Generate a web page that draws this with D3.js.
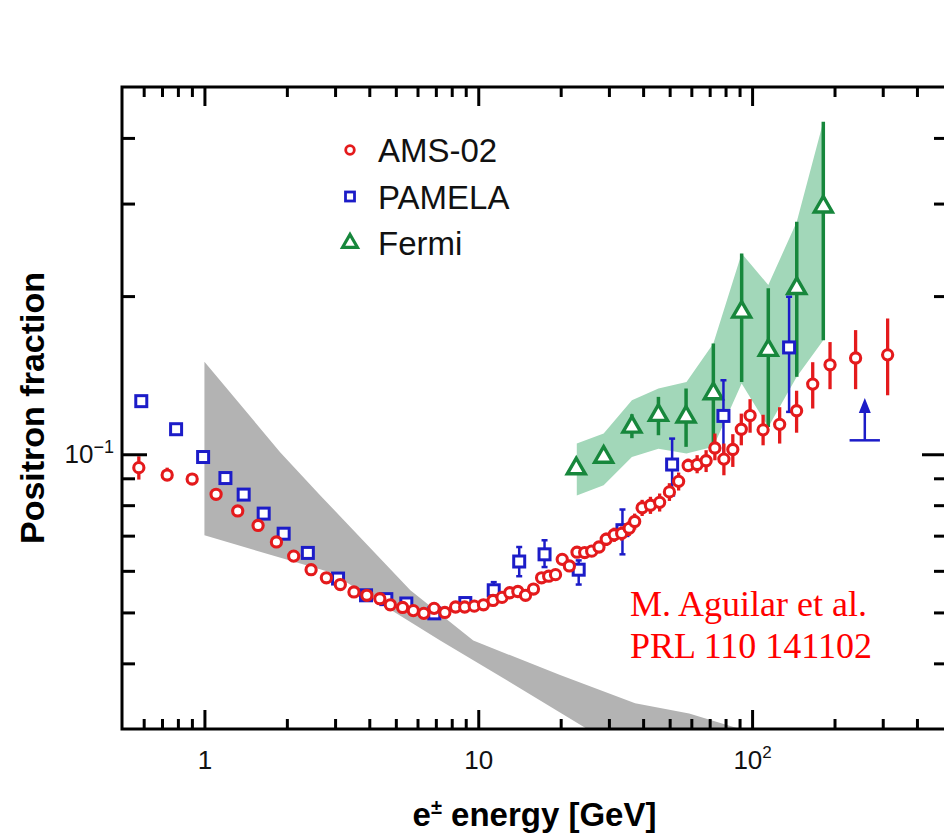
<!DOCTYPE html>
<html>
<head>
<meta charset="utf-8">
<script src="https://cdn.jsdelivr.net/npm/d3@7"></script>
<style>
  body { margin: 0; background: #fff; }
  svg { display: block; }
  .tick line { stroke: #000; stroke-width: 3; }
  .tick text { font-family: "Liberation Sans", Arial, sans-serif; font-size: 26px; fill: #111; }
</style>
</head>
<body>
<div id="viz"></div>
<script>

// AMS-02 positron fraction
var amsE = [0.576, 0.731, 0.902, 1.103, 1.323, 1.570, 1.832, 2.118, 2.452, 2.788,
  3.135, 3.516, 3.918, 4.370, 4.773, 5.293, 5.792, 6.326, 6.898, 7.552,
  8.264, 8.922, 9.670, 10.45, 11.32, 12.21, 13.03, 13.95, 14.88, 15.91,
  17.03, 18.08, 19.15, 20.26, 21.52, 22.94, 24.47, 25.96, 27.60, 29.33,
  31.36, 33.40, 35.57, 37.26, 39.67, 42.54, 45.96, 49.90, 53.92, 58.41,
  63.0, 67.94, 73.13, 78.89, 85.04, 91.33, 98.33, 109.7, 126.1, 145.4,
  166.5, 192.6, 238.8, 312.6];
var amsF = [0.0943, 0.0913, 0.0897, 0.0839, 0.0780, 0.0732, 0.0681, 0.0640, 0.0603, 0.0582,
  0.0565, 0.0547, 0.0539, 0.0531, 0.0517, 0.0511, 0.0504, 0.0498, 0.0509, 0.0500,
  0.0512, 0.0512, 0.0514, 0.0517, 0.0527, 0.0534, 0.0545, 0.0548, 0.0539, 0.0554,
  0.0582, 0.0586, 0.0590, 0.0631, 0.0613, 0.0651, 0.0650, 0.0654, 0.0666, 0.0689,
  0.0703, 0.0707, 0.0723, 0.0745, 0.0791, 0.0800, 0.0810, 0.0848, 0.0888, 0.0952,
  0.0956, 0.0972, 0.1028, 0.0979, 0.1021, 0.1116, 0.1185, 0.1113, 0.1140, 0.1210,
  0.1360, 0.1480, 0.1525, 0.1546];
var amsErrUp = [0.0048, 0.0030, 0.0008, 0.0008, 0.0008, 0.0008, 0.0008, 0.0008, 0.0008, 0.0008,
  0.0008, 0.0008, 0.0008, 0.0008, 0.0008, 0.0008, 0.0008, 0.0008, 0.0008, 0.0008,
  0.0008, 0.0008, 0.0008, 0.0008, 0.0008, 0.0008, 0.0008, 0.0008, 0.0008, 0.0008,
  0.0012, 0.0012, 0.0012, 0.0012, 0.0012, 0.0012, 0.0012, 0.0012, 0.0012, 0.0020,
  0.0022, 0.0022, 0.0024, 0.0026, 0.0028, 0.0030, 0.0032, 0.0033, 0.0035, 0.0029,
  0.0040, 0.0046, 0.0067, 0.0069, 0.0071, 0.0079, 0.0088, 0.0076, 0.0089, 0.0111,
  0.0137, 0.0155, 0.0198, 0.0267];
var amsErrDn = [0.0048, 0.0023, 0.0008, 0.0008, 0.0008, 0.0008, 0.0008, 0.0008, 0.0008, 0.0008,
  0.0008, 0.0008, 0.0008, 0.0008, 0.0008, 0.0008, 0.0008, 0.0008, 0.0008, 0.0008,
  0.0008, 0.0008, 0.0008, 0.0008, 0.0008, 0.0008, 0.0008, 0.0008, 0.0008, 0.0008,
  0.0012, 0.0012, 0.0012, 0.0012, 0.0012, 0.0012, 0.0012, 0.0012, 0.0012, 0.0020,
  0.0022, 0.0022, 0.0024, 0.0026, 0.0028, 0.0030, 0.0032, 0.0033, 0.0035, 0.0027,
  0.0036, 0.0047, 0.0054, 0.0067, 0.0075, 0.0076, 0.0086, 0.0073, 0.0092, 0.0111,
  0.0138, 0.0150, 0.0195, 0.0251];

// PAMELA
var pamE = [0.588, 0.788, 0.989, 1.193, 1.391, 1.646, 1.947, 2.386, 3.076, 3.892, 4.616,
  5.461, 6.909, 8.968, 11.39, 14.11, 17.46, 23.27, 33.62, 51.05, 78.6, 136.5];
var pamF = [0.1262, 0.1116, 0.0988, 0.0901, 0.0838, 0.0771, 0.0706, 0.0649, 0.0580, 0.0539, 0.0530,
  0.0520, 0.0498, 0.0521, 0.0551, 0.0625, 0.0645, 0.0603, 0.0717, 0.0956, 0.1183, 0.1597];
var pamErrUp = [0, 0, 0, 0, 0, 0, 0, 0, 0, 0, 0,
  0, 0, 0.0010, 0.0020, 0.0041, 0.0041, 0.0025, 0.0068, 0.0115, 0.0200, 0.0397];
var pamErrDn = [0, 0, 0, 0, 0, 0, 0, 0, 0, 0, 0,
  0, 0, 0.0010, 0.0024, 0.0039, 0.0035, 0.0038, 0.0072, 0.0121, 0.0202, 0.0393];

// PAMELA lower limit (arrow)
var limE = [258], limELo = [227], limEHi = [293], limF = [0.1063], limTip = [0.128];

// Fermi
var fermiE = [22.8, 28.7, 36.4, 45.5, 57.4, 72.2, 91.6, 114.6, 145.6, 182.0];
var fermiF = [0.0939, 0.0988, 0.1127, 0.1187, 0.1178, 0.1305, 0.1866, 0.1578, 0.2069, 0.2958];
var fermiHi = [0.0955, 0.1005, 0.1192, 0.1286, 0.1334, 0.1625, 0.2411, 0.2069, 0.2770, 0.4295];
var fermiLo = [0.0922, 0.0972, 0.1073, 0.1087, 0.1033, 0.1003, 0.1373, 0.1127, 0.1404, 0.1649];

// Fermi systematic band
var fermiBandE = [22.9, 28.7, 36.4, 45.5, 57.6, 72.2, 91.6, 114.6, 145.6, 182.0];
var fermiBandHi = [0.1048, 0.1095, 0.1267, 0.1334, 0.1373, 0.1625, 0.2411, 0.2099, 0.2770, 0.4295];
var fermiBandLo = [0.0835, 0.0873, 0.0988, 0.1025, 0.1003, 0.1033, 0.1364, 0.1127, 0.1404, 0.1649];

// secondary production band (grey)
var secUpE = [1.0, 1.89, 2.65, 5.65, 9.59, 19.9, 37.4, 58.9, 90.4];
var secUpF = [0.150, 0.1009, 0.0835, 0.0551, 0.0442, 0.0380, 0.0336, 0.0321, 0.0300];
var secLoE = [1.0, 2.88, 7.26, 12.76, 25.0];
var secLoF = [0.0701, 0.0596, 0.0442, 0.0371, 0.0300];

// ticks
var xMajor = [1, 10, 100];
var xMinor = [0.6, 0.7, 0.8, 0.9, 2, 3, 4, 5, 6, 7, 8, 9, 20, 30, 40, 50, 60, 70, 80, 90, 200, 300, 400];
var yMajor = [0.1];
var yMinor = [0.04, 0.05, 0.06, 0.07, 0.08, 0.09, 0.2, 0.3, 0.4];

var red = "#e41a1c", blue = "#1c1cc8", green = "#17873c";

var W = 944, H = 834;
var pl = 122, pr = 947, pt = 87, pb = 729;

var svg = d3.select("#viz").append("svg")
  .attr("width", W)
  .attr("height", H);

svg.append("rect").attr("width", W).attr("height", H).attr("fill", "#fff");

var x = d3.scaleLog().domain([0.5, 515]).range([pl, pr]);
var y = d3.scaleLog().domain([0.03, 0.5]).range([pb, pt]);

svg.append("clipPath").attr("id", "plot")
  .append("rect")
  .attr("x", pl).attr("y", pt)
  .attr("width", pr - pl).attr("height", pb - pt);

var plot = svg.append("g").attr("clip-path", "url(#plot)");

var line = d3.line()
  .x(function(d){return x(d[0])})
  .y(function(d){return y(d[1])});

// grey band
var secPoly = secUpE.map(function(e, i){return [e, secUpF[i]]})
  .concat(secLoE.map(function(e, i){return [e, secLoF[i]]}).reverse());
plot.append("path")
  .attr("d", line(secPoly) + "Z")
  .attr("fill", "#b3b3b3");

// fermi band
var area = d3.area()
  .x(function(d, i){return x(fermiBandE[i])})
  .y0(function(d, i){return y(fermiBandLo[i])})
  .y1(function(d, i){return y(fermiBandHi[i])});
plot.append("path")
  .attr("d", area(fermiBandE))
  .attr("fill", "#a2d7b9");

// fermi points
var fi = d3.range(fermiE.length);
plot.selectAll(".fbar").data(fi).enter().append("line")
  .attr("x1", function(i){return x(fermiE[i])})
  .attr("x2", function(i){return x(fermiE[i])})
  .attr("y1", function(i){return y(fermiLo[i])})
  .attr("y2", function(i){return y(fermiHi[i])})
  .attr("stroke", green).attr("stroke-width", 3.5);

var tri = d3.symbol().type(d3.symbolTriangle).size(140);
plot.selectAll(".ftri").data(fi).enter().append("path")
  .attr("d", tri)
  .attr("transform", function(i){return "translate(" + x(fermiE[i]) + "," + y(fermiF[i]) + ")"})
  .attr("fill", "#fff").attr("stroke", green).attr("stroke-width", 3.4)
  .attr("stroke-linejoin", "miter");

// pamela points
var pi = d3.range(pamE.length).filter(function(i){return pamErrUp[i] > 0});
var pbar = plot.selectAll(".pbar").data(pi).enter().append("g")
  .attr("stroke", blue).attr("stroke-width", 2.5);
pbar.append("line")
  .attr("x1", function(i){return x(pamE[i])})
  .attr("x2", function(i){return x(pamE[i])})
  .attr("y1", function(i){return y(pamF[i] - pamErrDn[i])})
  .attr("y2", function(i){return y(pamF[i] + pamErrUp[i])});
pbar.append("line")
  .attr("x1", function(i){return x(pamE[i]) - 3})
  .attr("x2", function(i){return x(pamE[i]) + 3})
  .attr("y1", function(i){return y(pamF[i] + pamErrUp[i])})
  .attr("y2", function(i){return y(pamF[i] + pamErrUp[i])});
pbar.append("line")
  .attr("x1", function(i){return x(pamE[i]) - 3})
  .attr("x2", function(i){return x(pamE[i]) + 3})
  .attr("y1", function(i){return y(pamF[i] - pamErrDn[i])})
  .attr("y2", function(i){return y(pamF[i] - pamErrDn[i])});

plot.selectAll(".psq").data(d3.range(pamE.length)).enter().append("rect")
  .attr("x", function(i){return x(pamE[i]) - 5.5})
  .attr("y", function(i){return y(pamF[i]) - 5.5})
  .attr("width", 11).attr("height", 11)
  .attr("fill", "#fff").attr("stroke", blue).attr("stroke-width", 3);

// ams points
var ai = d3.range(amsE.length);
plot.selectAll(".abar").data(ai).enter().append("line")
  .attr("x1", function(i){return x(amsE[i])})
  .attr("x2", function(i){return x(amsE[i])})
  .attr("y1", function(i){return y(amsF[i] - amsErrDn[i])})
  .attr("y2", function(i){return y(amsF[i] + amsErrUp[i])})
  .attr("stroke", red).attr("stroke-width", 3.3);

plot.selectAll(".acirc").data(ai).enter().append("circle")
  .attr("cx", function(i){return x(amsE[i])})
  .attr("cy", function(i){return y(amsF[i])})
  .attr("r", 5.1)
  .attr("fill", "#fff").attr("stroke", red).attr("stroke-width", 3.1);

// lower limit arrow
limE.forEach(function(e, i){
  var g = plot.append("g").attr("stroke", blue).attr("stroke-width", 2.5);
  g.append("line")
    .attr("x1", x(limELo[i])).attr("x2", x(limEHi[i]))
    .attr("y1", y(limF[i])).attr("y2", y(limF[i]));
  g.append("line")
    .attr("x1", x(e)).attr("x2", x(e))
    .attr("y1", y(limF[i])).attr("y2", y(limTip[i]) + 12);
  plot.append("path")
    .attr("d", "M" + x(e) + "," + y(limTip[i]) +
      "L" + (x(e) + 6) + "," + (y(limTip[i]) + 15) +
      "L" + (x(e) - 6) + "," + (y(limTip[i]) + 15) + "Z")
    .attr("fill", blue);
});

// axes (ticks point inward)
function noDomain(g){ g.select(".domain").remove(); }

svg.append("g").attr("transform", "translate(0," + pb + ")")
  .call(d3.axisBottom(x).tickValues(xMinor).tickSize(-10).tickFormat(""))
  .call(noDomain);
var xb = svg.append("g").attr("transform", "translate(0," + pb + ")")
  .call(d3.axisBottom(x).tickValues(xMajor).tickSize(-19).tickPadding(22)
    .tickFormat(function(d){return d >= 100 ? "10" : d3.format("d")(d)}))
  .call(noDomain);
xb.selectAll("text").filter(function(d){return d >= 100})
  .append("tspan").attr("dy", "-11").attr("font-size", "17px").text("2");

svg.append("g").attr("transform", "translate(0," + pt + ")")
  .call(d3.axisTop(x).tickValues(xMinor).tickSize(-10).tickFormat(""))
  .call(noDomain);
svg.append("g").attr("transform", "translate(0," + pt + ")")
  .call(d3.axisTop(x).tickValues(xMajor).tickSize(-19).tickFormat(""))
  .call(noDomain);

svg.append("g").attr("transform", "translate(" + pl + ",0)")
  .call(d3.axisLeft(y).tickValues(yMinor).tickSize(-13).tickFormat(""))
  .call(noDomain);
var yl = svg.append("g").attr("transform", "translate(" + pl + ",0)")
  .call(d3.axisLeft(y).tickValues(yMajor).tickSize(-25).tickPadding(8)
    .tickFormat(function(){return "10"}))
  .call(noDomain);
yl.selectAll("text").append("tspan")
  .attr("dy", "-10").attr("font-size", "18px").text("\u22121");

svg.append("g").attr("transform", "translate(" + pr + ",0)")
  .call(d3.axisRight(y).tickValues(yMinor).tickSize(-13).tickFormat(""))
  .call(noDomain);
svg.append("g").attr("transform", "translate(" + pr + ",0)")
  .call(d3.axisRight(y).tickValues(yMajor).tickSize(-25).tickFormat(""))
  .call(noDomain);

svg.append("rect")
  .attr("x", pl).attr("y", pt)
  .attr("width", pr - pl).attr("height", pb - pt)
  .attr("fill", "none").attr("stroke", "#000").attr("stroke-width", 3);

// axis titles
svg.append("text")
  .attr("transform", "translate(44," + ((pt + pb) / 2) + ") rotate(-90)")
  .attr("text-anchor", "middle")
  .style("font-family", "Liberation Sans, Arial, sans-serif")
  .style("font-weight", "bold").style("font-size", "34px")
  .text("Positron fraction");

var xt = svg.append("text")
  .attr("x", (pl + pr) / 2).attr("y", 826)
  .attr("text-anchor", "middle")
  .style("font-family", "Liberation Sans, Arial, sans-serif")
  .style("font-weight", "bold").style("font-size", "33px");
xt.append("tspan").text("e");
xt.append("tspan").attr("dy", -12).style("font-size", "20px").text("\u00b1");
xt.append("tspan").attr("dy", 12).text(" energy [GeV]");

// legend
var legendNames = ["AMS-02", "PAMELA", "Fermi"];
var legend = svg.append("g");
legendNames.forEach(function(name, i){
  var cy = 150 + i * 46.5;
  if (i == 0) {
    legend.append("circle").attr("cx", 350).attr("cy", cy).attr("r", 4.3)
      .attr("fill", "#fff").attr("stroke", red).attr("stroke-width", 2.8);
  } else if (i == 1) {
    legend.append("rect").attr("x", 345.5).attr("y", cy - 4.5).attr("width", 9).attr("height", 9)
      .attr("fill", "#fff").attr("stroke", blue).attr("stroke-width", 2.8);
  } else {
    legend.append("path").attr("d", d3.symbol().type(d3.symbolTriangle).size(95)())
      .attr("transform", "translate(350," + cy + ")")
      .attr("fill", "#fff").attr("stroke", green).attr("stroke-width", 3.2);
  }
  legend.append("text")
    .attr("x", 378).attr("y", cy + 12)
    .style("font-family", "Liberation Sans, Arial, sans-serif")
    .style("font-size", "33px").attr("fill", "#111")
    .text(name);
});

// reference
var ref = svg.append("text")
  .style("font-family", "Liberation Serif, Times New Roman, serif")
  .style("font-size", "36px").attr("fill", "#ff0000");
ref.append("tspan").attr("x", 630).attr("y", 616).text("M. Aguilar et al.");
ref.append("tspan").attr("x", 630).attr("y", 658).text("PRL 110 141102");

</script>
</body>
</html>
